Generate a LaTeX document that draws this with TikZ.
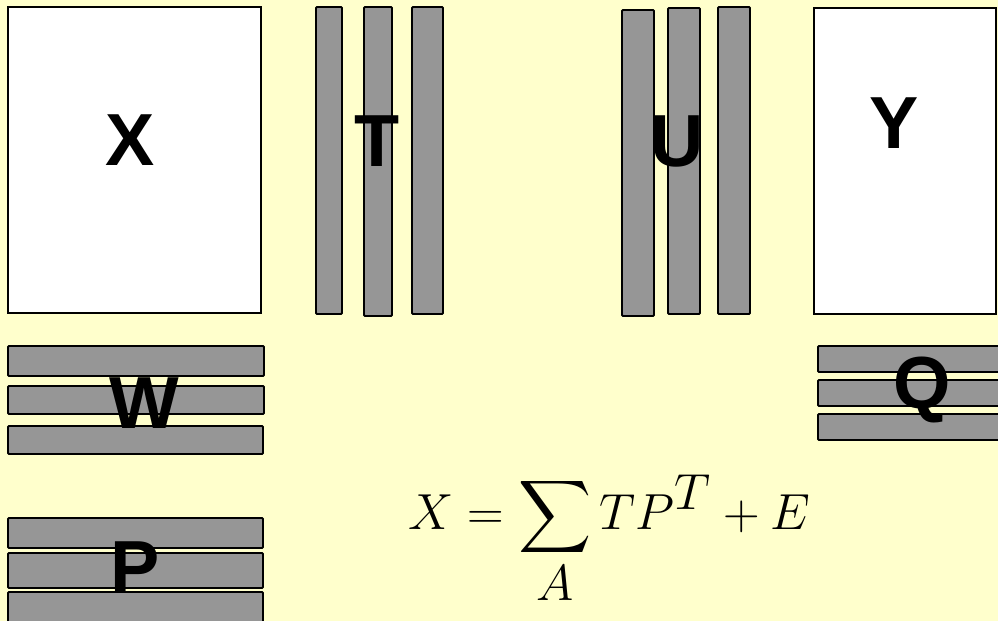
\documentclass[tikz,border=0pt]{standalone}
\usepackage{fontspec}
\setmainfont{Liberation Sans}
\usepackage{amsmath}
\usepackage{xcolor}
\usepackage{tikz}

\definecolor{paper}{RGB}{255,255,204}
\definecolor{bargray}{RGB}{150,150,150}

\tikzset{
  strip/.style={draw=black,fill=bargray,line width=1.1pt,rounded corners=0.6pt},
  matbox/.style={draw=black,fill=white,line width=1.1pt},
  letter/.style={font=\fontsize{42}{46}\selectfont\bfseries,inner sep=0pt}
}

\begin{document}
\begin{tikzpicture}[x=0.02cm,y=-0.02cm]
        \useasboundingbox (0,0) rectangle (998,621);
        \fill[paper] (0,0) rectangle (998,621);
        \clip (0,0) rectangle (998,621);
        % Data blocks
        \draw[matbox] (8,7) rectangle (261,313);
        \draw[matbox] (814,8) rectangle (996,314);
        % Score columns
        \draw[strip] (316,7) rectangle (342,314);
        \draw[strip] (364,7) rectangle (392,316);
        \draw[strip] (412,7) rectangle (443,314);
        \draw[strip] (622,10) rectangle (654,316);
        \draw[strip] (668,8) rectangle (700,314);
        \draw[strip] (718,7) rectangle (750,314);
        % Weight and loading rows
        \draw[strip] (8,346) rectangle (264,376);
        \draw[strip] (8,386) rectangle (264,414);
        \draw[strip] (8,426) rectangle (263,454);
        \draw[strip] (8,518) rectangle (263,548);
        \draw[strip] (8,553) rectangle (263,588);
        \draw[strip] (8,592) rectangle (263,640);
        \draw[strip] (818,346) rectangle (1010,372);
        \draw[strip] (818,380) rectangle (1010,406);
        \draw[strip] (818,414) rectangle (1010,440);
        % Labels
        \node[letter] (X) at (130,140) {X};
        \node[letter] (T) at (377,141) {T};
        \node[letter] (U) at (677,141) {U};
        \node[letter] (Y) at (894,123) {Y};
        \node[letter] (W) at (144,403) {W};
        \node[letter] (P) at (135,567) {P};
        \node[letter] (Q) at (922,390) {Q};
        % Model
        \node[anchor=base west,inner sep=0pt,scale=1.16,font=\fontsize{34}{40}\selectfont] (model) at (408,530)
          {$\displaystyle X=\sum_{A} TP^{T}+E$};
    \end{tikzpicture}
\end{document}
